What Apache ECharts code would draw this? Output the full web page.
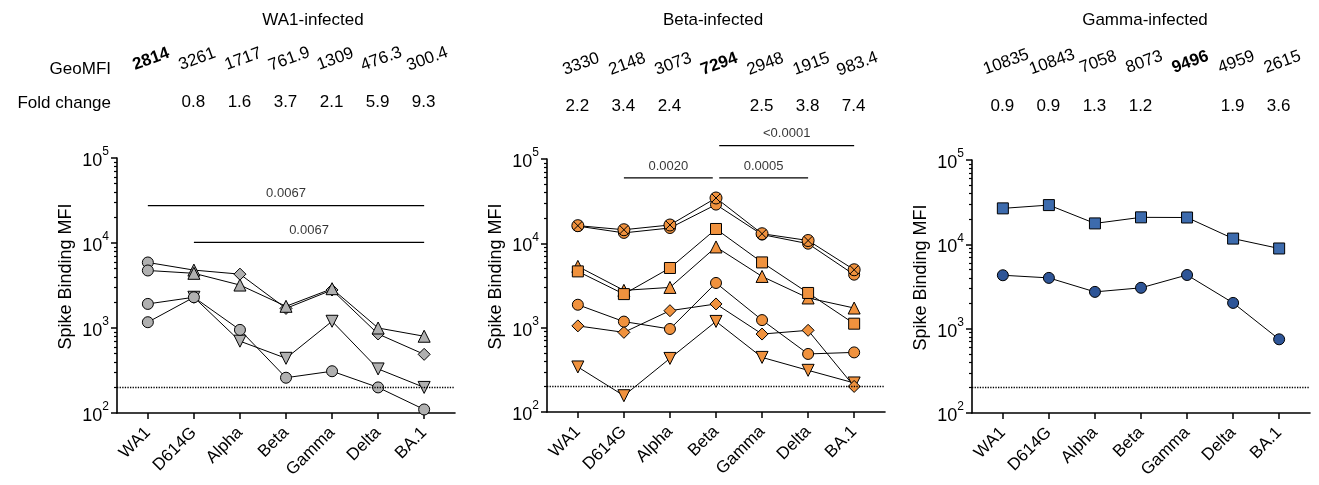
<!DOCTYPE html>
<html>
<head>
<meta charset="utf-8">
<script src="https://cdn.jsdelivr.net/npm/echarts@6/dist/echarts.min.js"></script>
<style>
  html, body { margin: 0; padding: 0; background: #fff; }
  #chart { width: 1319px; height: 485px; }
</style>
</head>
<body>
<div id="chart"></div>
<script>
// ---- data -------------------------------------------------------------
const categories = ['WA1', 'D614G', 'Alpha', 'Beta', 'Gamma', 'Delta', 'BA.1'];
const limitOfDetection = 200;

// WA1-infected donors (spike binding MFI per variant)
const wa1Diamond     = [5900, 4800, 4300, 1700, 2800, 850, 490];
const wa1Triangle    = [4750, 4400, 3200, 1800, 2900, 1000, 800];
const wa1InvTriangle = [1920, 2300, 700, 440, 1200, 330, 200];
const wa1Circle      = [1170, 2300, 950, 260, 310, 200, 110];
const wa1GeoMFI = ['2814', '3261', '1717', '761.9', '1309', '476.3', '300.4'];
const wa1Fold   = ['', '0.8', '1.6', '3.7', '2.1', '5.9', '9.3'];
const wa1Brackets = [
  { from: 'WA1',   to: 'BA.1', level: 27500, p: '0.0067' },
  { from: 'D614G', to: 'BA.1', level: 10150, p: '0.0067' }
];

// Beta-infected donors
const betaCrossCircle = [16200, 14500, 16500, 34500, 13000, 10800, 4860];
const betaCircleHigh  = [16000, 13300, 15200, 28800, 12700, 9900, 4250];
const betaSquare      = [4650, 2500, 5100, 14800, 5940, 2580, 1115];
const betaTriangle    = [5330, 2770, 3000, 9060, 4050, 2250, 1710];
const betaCircleLow   = [1870, 1180, 965, 3390, 1230, 488, 509];
const betaDiamond     = [1050, 880, 1590, 1910, 840, 930, 201];
const betaInvTriangle = [342, 156, 432, 1186, 444, 312, 221];
const betaGeoMFI = ['3330', '2148', '3073', '7294', '2948', '1915', '983.4'];
const betaFold   = ['2.2', '3.4', '2.4', '', '2.5', '3.8', '7.4'];
const betaBrackets = [
  { from: 'D614G', to: 'Beta',  level: 59600,  p: '0.0020' },
  { from: 'Beta',  to: 'Delta', level: 59600,  p: '0.0005' },
  { from: 'Beta',  to: 'BA.1',  level: 143800, p: '<0.0001' }
];

// Gamma-infected donors
const gammaSquare = [26700, 29200, 17700, 20900, 20800, 11700, 8930];
const gammaCircle = [4300, 4000, 2730, 3050, 4330, 2020, 748];
const gammaGeoMFI = ['10835', '10843', '7058', '8073', '9496', '4959', '2615'];
const gammaFold   = ['0.9', '0.9', '1.3', '1.2', '', '1.9', '3.6'];
const gammaBrackets = [];

// ---- styling ----------------------------------------------------------
const FONT = "'Liberation Sans', Arial, Helvetica, sans-serif";
const X_MIN = -0.67, X_MAX = 6.67;
const PLOT_W = 338;
const BRACKET_INSET = 0.07;

const SHAPES = {
  circle:      { symbol: 'circle', size: 11 },
  triangle:    { symbol: 'triangle', size: 12 },
  invTriangle: { symbol: 'path://M0,0L2,0L1,1.732Z', size: 12 },
  diamond:     { symbol: 'diamond', size: 12 },
  square:      { symbol: 'rect', size: 11 },
  crossCircle: { symbol: 'path://M1,0A1,1,0,1,1,-1,0A1,1,0,1,1,1,0ZM-0.707,-0.707L0.707,0.707M-0.707,0.707L0.707,-0.707', size: 12 }
};

const panels = [
  {
    title: 'WA1-infected', titleX: 313, left: 117, top: 158, height: 255,
    geo: wa1GeoMFI, fold: wa1Fold, ref: 0, geoY: 61, foldY: 103,
    brackets: wa1Brackets,
    lines: [
      { values: wa1Diamond,     shape: 'diamond',     color: '#b0b0b0', at: { 0: 'circle', 1: 'triangle' } },
      { values: wa1Triangle,    shape: 'triangle',    color: '#b0b0b0', at: { 0: 'circle' } },
      { values: wa1InvTriangle, shape: 'invTriangle', color: '#b0b0b0', at: { 0: 'circle' } },
      { values: wa1Circle,      shape: 'circle',      color: '#b0b0b0' }
    ]
  },
  {
    title: 'Beta-infected', titleX: 713, left: 547, top: 159, height: 253,
    geo: betaGeoMFI, fold: betaFold, ref: 3, geoY: 66, foldY: 107,
    brackets: betaBrackets,
    lines: [
      { values: betaInvTriangle, shape: 'invTriangle', color: '#f0923e' },
      { values: betaDiamond,     shape: 'diamond',     color: '#f0923e' },
      { values: betaCircleLow,   shape: 'circle',      color: '#f0923e' },
      { values: betaTriangle,    shape: 'triangle',    color: '#f0923e' },
      { values: betaSquare,      shape: 'square',      color: '#f0923e' },
      { values: betaCircleHigh,  shape: 'circle',      color: '#f0923e' },
      { values: betaCrossCircle, shape: 'crossCircle', color: '#f0923e' }
    ]
  },
  {
    title: 'Gamma-infected', titleX: 1145, left: 972, top: 160, height: 253,
    geo: gammaGeoMFI, fold: gammaFold, ref: 4, geoY: 64, foldY: 107,
    brackets: gammaBrackets,
    lines: [
      { values: gammaCircle, shape: 'circle', color: '#2e5597' },
      { values: gammaSquare, shape: 'square', color: '#3d6bad' }
    ]
  }
];

const catIndex = name => categories.indexOf(name);
const majorTicks = [100, 1000, 10000, 100000];
const minorTicks = [];
for (let e = 2; e < 5; e++) for (let m = 2; m <= 9; m++) minorTicks.push(m * Math.pow(10, e));

const grid = [], xAxis = [], yAxis = [], series = [];

panels.forEach((p, k) => {
  // main plot grid
  const g = grid.length;
  grid.push({ left: p.left, top: p.top, width: PLOT_W, height: p.height, containLabel: false });
  const xi = xAxis.length;
  xAxis.push({
    gridIndex: g, type: 'value', min: X_MIN, max: X_MAX,
    splitLine: { show: false },
    axisLine: { onZero: false, lineStyle: { color: '#000', width: 1.6 } },
    axisTick: { customValues: categories.map((c, i) => i), length: 6, lineStyle: { color: '#000', width: 1.5 } },
    axisLabel: {
      customValues: categories.map((c, i) => i),
      formatter: v => categories[Math.round(v)],
      rotate: 45, margin: 17, color: '#000', fontSize: 17, fontFamily: FONT
    }
  });
  const yi = yAxis.length;
  yAxis.push({
    gridIndex: g, type: 'log', logBase: 10, min: 100, max: 100000, position: 'left',
    name: 'Spike Binding MFI', nameLocation: 'middle', nameGap: 42,
    nameTextStyle: { color: '#000', fontSize: 18, fontFamily: FONT, padding: [0, 0, 0, 18] },
    splitLine: { show: false },
    axisLine: { show: true, onZero: false, lineStyle: { color: '#000', width: 1.6 } },
    axisTick: { customValues: majorTicks, length: 6, lineStyle: { color: '#000', width: 1.5 } },
    axisLabel: {
      customValues: majorTicks, margin: 8,
      formatter: v => '{b|10}{s|' + Math.round(Math.log10(v)) + '}',
      rich: {
        b: { fontSize: 18, fontFamily: FONT, color: '#000', lineHeight: 24, verticalAlign: 'bottom' },
        s: { fontSize: 12, fontFamily: FONT, color: '#000', lineHeight: 12, verticalAlign: 'top' }
      }
    }
  });
  // minor log ticks, drawn on an overlaid axis
  yAxis.push({
    gridIndex: g, type: 'log', logBase: 10, min: 100, max: 100000, position: 'left', offset: 0,
    splitLine: { show: false },
    axisLine: { show: false, onZero: false },
    axisLabel: { show: false },
    axisTick: { customValues: minorTicks, length: 3, lineStyle: { color: '#000', width: 1.2 } }
  });

  // limit of detection
  series.push({
    type: 'line', xAxisIndex: xi, yAxisIndex: yi, data: [], silent: true,
    markLine: {
      silent: true, symbol: 'none', label: { show: false },
      lineStyle: { color: '#000', type: 'dotted', width: 1.3 },
      data: [{ yAxis: limitOfDetection }]
    }
  });

  // donor lines
  p.lines.forEach(l => {
    series.push({
      type: 'line', xAxisIndex: xi, yAxisIndex: yi, z: 3,
      lineStyle: { color: '#000', width: 1 },
      itemStyle: { color: l.color, borderColor: '#000', borderWidth: 1 },
      emphasis: { disabled: true },
      data: l.values.map((v, i) => {
        const s = SHAPES[(l.at && l.at[i]) || l.shape];
        return { value: [i, v], symbol: s.symbol, symbolSize: s.size };
      })
    });
  });

  // significance brackets
  p.brackets.forEach(b => {
    let a = catIndex(b.from), z = catIndex(b.to);
    if (p.brackets.some(o => o !== b && catIndex(o.to) === a)) a += BRACKET_INSET;
    if (p.brackets.some(o => o !== b && catIndex(o.from) === z)) z -= BRACKET_INSET;
    series.push({
      type: 'line', xAxisIndex: xi, yAxisIndex: yi, clip: false, symbol: 'none', silent: true, z: 4,
      lineStyle: { color: '#000', width: 1.2 },
      data: [[a, b.level], [z, b.level]]
    });
    series.push({
      type: 'scatter', xAxisIndex: xi, yAxisIndex: yi, clip: false, symbolSize: 1, silent: true, z: 4,
      itemStyle: { color: 'transparent' },
      label: { show: true, position: 'top', distance: 5, formatter: b.p, color: '#000', fontSize: 13, fontFamily: FONT },
      data: [[(a + z) / 2, b.level]]
    });
  });

  // header rows (GeoMFI and fold change) aligned to the same category positions
  const hg = grid.length;
  grid.push({ left: p.left, top: 0, width: PLOT_W, height: 130 });
  const hx = xAxis.length;
  xAxis.push({ gridIndex: hg, type: 'value', min: X_MIN, max: X_MAX, show: false });
  const hy = yAxis.length;
  yAxis.push({ gridIndex: hg, type: 'value', min: 0, max: 130, inverse: true, show: false });
  const headerLabel = {
    show: true, position: [0, 0], align: 'center', verticalAlign: 'middle',
    formatter: '{b}', color: '#000', opacity: 1, textBorderWidth: 0,
    fontSize: 17, fontFamily: FONT
  };
  series.push({
    type: 'scatter', xAxisIndex: hx, yAxisIndex: hy, symbolSize: 1, silent: true, clip: false,
    itemStyle: { color: 'transparent' },
    label: Object.assign({}, headerLabel, { rotate: 20, offset: [4, 0] }),
    data: p.geo.map((t, i) => ({
      name: t, value: [i, p.geoY],
      label: i === p.ref ? { fontWeight: 'bold' } : undefined
    }))
  });
  series.push({
    type: 'scatter', xAxisIndex: hx, yAxisIndex: hy, symbolSize: 1, silent: true, clip: false,
    itemStyle: { color: 'transparent' },
    label: headerLabel,
    data: p.fold.map((t, i) => ({ name: t, value: [i, p.foldY] })).filter(d => d.name !== '')
  });
});

const textItem = (text, x, y, align) => ({
  type: 'text', x: x, y: y, silent: true,
  style: { text: text, fill: '#000', font: '17px ' + FONT, textAlign: align, textVerticalAlign: 'middle' }
});

const graphic = [
  ...panels.map(p => textItem(p.title, p.titleX, 20, 'center')),
  textItem('GeoMFI', 111, 69, 'right'),
  textItem('Fold change', 111, 103, 'right')
];

const chart = echarts.init(document.getElementById('chart'), null, { renderer: 'canvas' });
chart.setOption({
  animation: false,
  backgroundColor: '#fff',
  textStyle: { fontFamily: FONT },
  grid, xAxis, yAxis, series, graphic
});
</script>
</body>
</html>
